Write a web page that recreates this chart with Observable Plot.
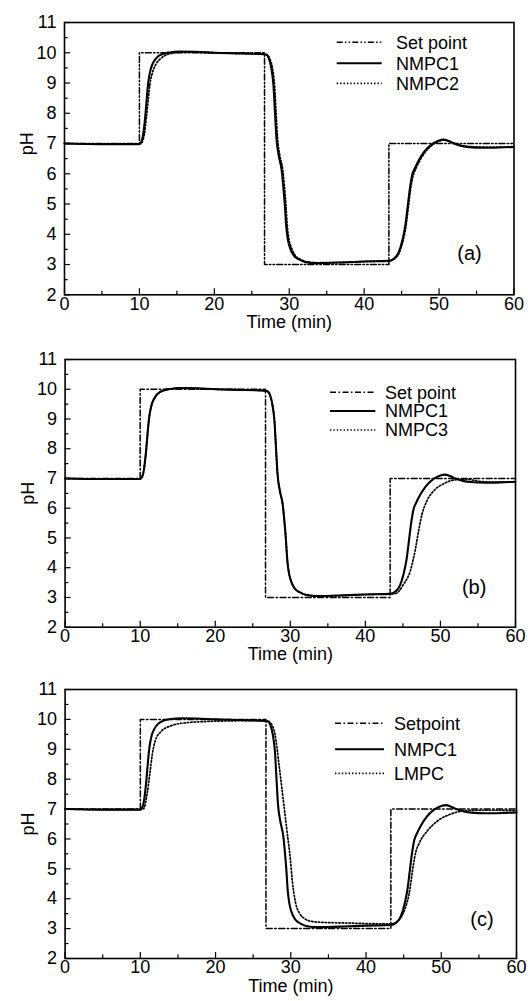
<!DOCTYPE html>
<html><head><meta charset="utf-8">
<script src="https://cdn.jsdelivr.net/npm/d3@7"></script>
<script src="https://cdn.jsdelivr.net/npm/@observablehq/plot@0.6"></script>
<style>
body{margin:0;background:#fff;}
#chart svg{display:block;}
</style>
</head><body><div id="chart"></div>
<script>
// ---- data ----
const setT  = [0, 10, 26.7, 43.3, 60];
const setPH = [7, 10, 3, 7, 7];

const nmpc1T  = [0, 5, 9.9, 10.2, 10.5, 10.8, 11.0, 11.2, 11.5, 11.9, 12.4, 13.0, 14.0, 15.5, 17.5, 20.0, 23.0, 26.0, 26.9, 27.3, 27.6, 27.9, 28.1, 28.3, 28.6, 29.0, 29.2, 29.4, 29.6, 29.8, 30.1, 30.6, 31.3, 32.2, 33.5, 37.0, 40.0, 43.3, 44.0, 44.6, 45.1, 45.5, 45.8, 46.1, 46.4, 46.8, 47.3, 48.0, 49.0, 50.0, 50.6, 51.3, 52.0, 53.0, 54.0, 56.0, 58.0, 60.0];
const nmpc1PH = [7.0, 6.98, 6.98, 7.03, 7.3, 7.95, 8.55, 9.05, 9.45, 9.7, 9.86, 9.95, 10.01, 10.04, 10.03, 10.0, 9.98, 9.96, 9.94, 9.8, 9.5, 8.9, 8.0, 7.15, 6.6, 6.1, 5.6, 5.0, 4.25, 3.85, 3.55, 3.3, 3.17, 3.08, 3.05, 3.07, 3.1, 3.12, 3.2, 3.4, 3.8, 4.3, 4.9, 5.5, 5.95, 6.2, 6.45, 6.72, 6.97, 7.1, 7.13, 7.08, 7.0, 6.92, 6.88, 6.86, 6.87, 6.89];

const nmpc2T  = [0, 5, 10.0, 10.3, 10.65, 10.95, 11.2, 11.4, 11.75, 12.2, 12.8, 13.5, 14.5, 16.0, 18.0, 20.0, 23.0, 26.0, 27.0, 27.4, 27.75, 28.05, 28.25, 28.45, 28.75, 29.15, 29.35, 29.55, 29.75, 29.95, 30.3, 30.8, 31.5, 32.4, 33.7, 37.0, 40.0, 43.3, 44.1, 44.7, 45.2, 45.6, 45.9, 46.2, 46.5, 46.9, 47.4, 48.1, 49.1, 50.1, 50.7, 51.4, 52.1, 53.1, 54.1, 56.0, 58.0, 60.0];
const nmpc2PH = [7.0, 6.98, 6.98, 7.02, 7.3, 7.9, 8.5, 8.95, 9.35, 9.62, 9.8, 9.92, 9.99, 10.02, 10.02, 10.0, 9.98, 9.96, 9.94, 9.8, 9.5, 8.9, 8.0, 7.15, 6.6, 6.1, 5.6, 5.0, 4.25, 3.85, 3.55, 3.3, 3.17, 3.09, 3.06, 3.07, 3.1, 3.12, 3.2, 3.4, 3.8, 4.3, 4.9, 5.5, 5.9, 6.17, 6.42, 6.7, 6.95, 7.09, 7.12, 7.07, 7.0, 6.93, 6.9, 6.88, 6.88, 6.9];

const nmpc3T  = [0, 5, 9.9, 10.2, 10.5, 10.8, 11.0, 11.2, 11.5, 11.9, 12.4, 13.0, 14.0, 15.5, 17.5, 20.0, 23.0, 26.0, 26.9, 27.3, 27.6, 27.9, 28.1, 28.3, 28.6, 29.0, 29.2, 29.4, 29.6, 29.8, 30.1, 30.6, 31.3, 32.2, 33.5, 37.0, 40.0, 43.3, 44.0, 44.6, 45.1, 45.6, 46.0, 46.35, 46.65, 47.1, 47.55, 48.2, 49.1, 50.4, 51.3, 52.2, 53.5, 55.3, 57.0, 60.0];
const nmpc3PH = [7.0, 6.98, 6.98, 7.03, 7.3, 7.95, 8.55, 9.05, 9.45, 9.7, 9.86, 9.95, 10.01, 10.04, 10.03, 10.0, 9.98, 9.96, 9.94, 9.8, 9.5, 8.9, 8.0, 7.15, 6.6, 6.1, 5.6, 5.0, 4.25, 3.85, 3.55, 3.3, 3.17, 3.08, 3.05, 3.07, 3.1, 3.12, 3.13, 3.25, 3.45, 3.65, 3.9, 4.25, 4.6, 5.25, 5.8, 6.25, 6.58, 6.82, 6.92, 6.96, 6.97, 6.9, 6.88, 6.89];

const lmpcT  = [0, 5, 10.0, 10.45, 10.9, 11.27, 11.6, 12.0, 12.7, 14.0, 16.2, 18.9, 22.0, 26.0, 26.9, 27.35, 27.9, 28.45, 29.0, 29.5, 29.95, 30.2, 30.65, 31.2, 31.8, 32.6, 34.0, 37.0, 40.0, 43.3, 44.0, 44.7, 45.3, 45.7, 46.3, 46.6, 47.0, 48.15, 49.5, 51.25, 53.0, 54.8, 57.0, 60.0];
const lmpcPH = [7.0, 6.98, 6.98, 7.02, 7.5, 8.2, 8.85, 9.3, 9.58, 9.78, 9.89, 9.93, 9.95, 9.96, 9.95, 9.87, 9.5, 8.45, 7.3, 6.25, 5.3, 4.6, 3.85, 3.5, 3.34, 3.25, 3.21, 3.19, 3.17, 3.16, 3.2, 3.4, 3.75, 4.13, 5.14, 5.55, 5.82, 6.27, 6.6, 6.83, 6.94, 6.96, 6.96, 6.95];

const xMajor = [0, 10, 20, 30, 40, 50, 60];
const xMinor = [5, 15, 25, 35, 45, 55];
const yMajor = [2, 3, 4, 5, 6, 7, 8, 9, 10, 11];
const yMinor = [2.5, 3.5, 4.5, 5.5, 6.5, 7.5, 8.5, 9.5, 10.5];

const FONT = "'Liberation Sans', Arial, Helvetica, sans-serif";
const FS = 18;
const DOT = "1.4,2";

function rows(ts, vs) { return ts.map((t, i) => ({t, v: vs[i]})); }

function panel(cfg) {
  const svg = Plot.plot({
    width: 528, height: cfg.h,
    marginTop: cfg.mt, marginBottom: cfg.mb, marginLeft: cfg.ml, marginRight: cfg.mr,
    style: {fontFamily: FONT, fontSize: FS + "px", background: "white", color: "black"},
    x: {domain: [0, 60]},
    y: {domain: [2, 11]},
    marks: [
      Plot.ruleX(xMajor, {x: d => d, y1: 2, y2: 2.2, stroke: "black", strokeWidth: 1.2}),
      Plot.ruleX(xMinor, {x: d => d, y1: 2, y2: 2.12, stroke: "black", strokeWidth: 1.2}),
      Plot.ruleY(yMajor, {y: d => d, x1: 0, x2: 0.8, stroke: "black", strokeWidth: 1.2}),
      Plot.ruleY(yMinor, {y: d => d, x1: 0, x2: 0.5, stroke: "black", strokeWidth: 1.2}),
      Plot.line(rows(setT, setPH), {x: "t", y: "v", curve: "step-after", stroke: "black", strokeWidth: 1.5, strokeDasharray: cfg.setDash}),
      Plot.line(rows(cfg.cmpT, cfg.cmpPH), {x: "t", y: "v", curve: "monotone-x", stroke: "black", strokeWidth: 1.7, strokeDasharray: DOT}),
      Plot.line(rows(nmpc1T, nmpc1PH), {x: "t", y: "v", curve: "monotone-x", stroke: "black", strokeWidth: 2.1}),
      Plot.frame({stroke: "black", strokeWidth: 1.6}),
      Plot.axisX(xMajor, {tickSize: 0, tickPadding: 2, fontSize: FS, label: null}),
      Plot.axisY(yMajor, {tickSize: 0, tickPadding: 8, fontSize: FS, label: null}),
      Plot.text(["Time (min)"], {text: d => d, frameAnchor: "bottom", textAnchor: "middle", lineAnchor: "middle", dy: 27.5, fontSize: FS}),
      Plot.text(["pH"], {text: d => d, frameAnchor: "left", textAnchor: "middle", lineAnchor: "middle", rotate: -90, dx: -37, dy: cfg.phDy || 0, fontSize: FS}),
      Plot.text([cfg.tag], {text: d => d, frameAnchor: "bottom-right", textAnchor: "middle", lineAnchor: "middle", dx: cfg.tagDx, dy: cfg.tagDy, fontSize: 20})
    ]
  });
  const s = d3.select(svg);
  const g = s.append("g").attr("font-family", FONT).attr("font-size", FS).attr("text-anchor", "start");
  const items = [
    {label: cfg.names[0], dash: cfg.setDash, w: 1.5},
    {label: cfg.names[1], dash: null, w: 2.1},
    {label: cfg.names[2], dash: DOT, w: 1.7}
  ];
  items.forEach((it, i) => {
    const y = cfg.legY[i];
    g.append("line").attr("x1", cfg.legX1).attr("x2", cfg.legX2).attr("y1", y).attr("y2", y)
      .attr("stroke", "black").attr("stroke-width", it.w).attr("stroke-dasharray", it.dash);
    g.append("text").attr("x", cfg.legTx).attr("y", y).attr("dy", "0.36em").attr("text-anchor", "start").text(it.label);
  });
  document.getElementById("chart").appendChild(svg);
}

// panel (a): page y 0..336
panel({h: 336, mt: 22, mb: 41.7, ml: 64, mr: 14.5, cmpT: nmpc2T, cmpPH: nmpc2PH,
  setDash: "6,2.2,1.5,2.2,1.5,2.2", names: ["Set point", "NMPC1", "NMPC2"],
  legX1: 336.7, legX2: 381.7, legTx: 396, legY: [42.3, 63.3, 83.3],
  tag: "(a)", tagDx: -44.5, tagDy: -41, phDy: -15});
// panel (b): page y 336..666
panel({h: 330, mt: 23, mb: 39.3, ml: 64.6, mr: 13, cmpT: nmpc3T, cmpPH: nmpc3PH,
  setDash: "6,2.5,1.5,2.5", names: ["Set point", "NMPC1", "NMPC3"],
  legX1: 330, legX2: 375.4, legTx: 385, legY: [56.3, 75, 94],
  tag: "(b)", tagDx: -41.4, tagDy: -40});
// panel (c): page y 666..1001
panel({h: 335, mt: 23, mb: 43, ml: 64.6, mr: 12, cmpT: lmpcT, cmpPH: lmpcPH,
  setDash: "6,2.5,1.5,2.5", names: ["Setpoint", "NMPC1", "LMPC"],
  legX1: 335, legX2: 384, legTx: 394, legY: [57.3, 83.3, 107.3],
  tag: "(c)", tagDx: -34.5, tagDy: -38.7});
</script>
</body></html>
